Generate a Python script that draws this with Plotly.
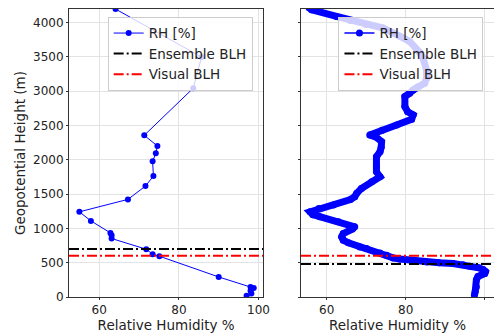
import plotly.graph_objects as go

# ---- Data ----
# Left panel: coarse sounding (RH %, geopotential height m)
left_rh = [97.0, 98.2, 98.0, 98.8, 98.0, 90.0, 75.1, 73.4, 71.8, 63.1, 63.1, 62.8,
           57.9, 55.0, 67.2, 71.6, 73.6, 73.4, 74.2, 74.6, 71.3, 83.6, 85.7, 64.1]
left_h = [20, 50, 90, 130, 145, 292, 594, 623, 696, 852, 901, 934,
          1109, 1241, 1422, 1616, 1762, 1977, 2093, 2200, 2356, 3042, 3495, 4195]

# Right panel: high-resolution profile
right_rh = [55.5, 56.2, 62.5, 66.0, 70.0, 74.3, 78.5, 81.0, 83.6, 84.4, 85.3, 85.3,
            84.8, 83.0, 81.9, 81.0, 79.8, 79.8, 80.5, 81.9, 81.5, 77.7, 74.0, 70.9,
            72.5, 73.9, 73.8, 73.5, 72.6, 72.6, 72.6, 73.5, 71.4, 68.8, 67.6, 67.1,
            66.0, 61.7, 58.0, 55.8, 56.5, 58.3, 63.0, 67.1, 66.5, 64.2, 63.8, 64.2,
            65.5, 68.4, 70.1, 73.5, 75.2, 76.8, 78.5, 81.9, 85.3, 88.5, 92.0, 94.5,
            96.2, 98.5, 99.6, 100.2, 100.0, 98.3, 97.9, 97.9, 97.6, 97.4]
right_h = [4215, 4185, 4088, 4030, 3970, 3918, 3800, 3723, 3560, 3480, 3300, 3188,
           3115, 3060, 3017, 2969, 2920, 2774, 2700, 2653, 2590, 2507, 2430, 2361,
           2330, 2263, 2180, 2117, 2044, 1900, 1825, 1752, 1679, 1582, 1510, 1460,
           1420, 1339, 1290, 1241, 1200, 1168, 1095, 1022, 990, 925, 876, 828,
           790, 730, 706, 640, 609, 570, 555, 530, 511, 498, 487, 470,
           448, 425, 400, 370, 341, 300, 250, 146, 80, 25]

# Boundary-layer heights (m)
left_ensemble_blh = 700
left_visual_blh = 600
right_ensemble_blh = 482
right_visual_blh = 600

x_ticks = [60, 80, 100]
y_ticks = list(range(0, 4001, 500))

left_xrange = [52.4, 101.2]
right_xrange = [53.5, 102.36]
y_range = [0, 4196]

BLUE = "#0000ff"
DASH = "10px,3px,2px,3px"
FONT = "DejaVu Sans"

fig = go.Figure()

# Left panel
fig.add_trace(go.Scatter(x=left_rh, y=left_h, mode="lines+markers", name="RH [%]",
                         line=dict(color=BLUE, width=1), marker=dict(color=BLUE, size=6),
                         xaxis="x", yaxis="y", legend="legend"))
fig.add_trace(go.Scatter(x=left_xrange, y=[left_ensemble_blh] * 2, mode="lines",
                         name="Ensemble BLH", line=dict(color="black", width=2, dash=DASH),
                         xaxis="x", yaxis="y", legend="legend"))
fig.add_trace(go.Scatter(x=left_xrange, y=[left_visual_blh] * 2, mode="lines",
                         name="Visual BLH", line=dict(color="red", width=2, dash=DASH),
                         xaxis="x", yaxis="y", legend="legend"))

# Right panel
fig.add_trace(go.Scatter(x=right_rh, y=right_h, mode="lines", showlegend=False,
                         line=dict(color=BLUE, width=7),
                         xaxis="x2", yaxis="y2", legend="legend2"))
fig.add_trace(go.Scatter(x=right_rh, y=right_h, mode="lines+markers", name="RH [%]",
                         line=dict(color=BLUE, width=1.5), marker=dict(color=BLUE, size=7),
                         xaxis="x2", yaxis="y2", legend="legend2"))
fig.add_trace(go.Scatter(x=right_xrange, y=[right_ensemble_blh] * 2, mode="lines",
                         name="Ensemble BLH", line=dict(color="black", width=2, dash=DASH),
                         xaxis="x2", yaxis="y2", legend="legend2"))
fig.add_trace(go.Scatter(x=right_xrange, y=[right_visual_blh] * 2, mode="lines",
                         name="Visual BLH", line=dict(color="red", width=2, dash=DASH),
                         xaxis="x2", yaxis="y2", legend="legend2"))

axis_common = dict(showline=True, linecolor="#333", linewidth=1, mirror=True,
                   ticks="outside", ticklen=2, tickcolor="#333", automargin=False,
                   showgrid=True, gridcolor="#e3e3e3", gridwidth=1, zeroline=False,
                   tickfont=dict(family=FONT, size=12, color="#222"))

legend_common = dict(bgcolor="rgba(255,255,255,0.8)", bordercolor="#cccccc", borderwidth=1,
                     font=dict(family=FONT, size=13.5, color="#222"),
                     xanchor="left", yanchor="top", tracegroupgap=0)

title_font = dict(family=FONT, size=13.5, color="#222")

fig.update_layout(
    width=494, height=333,
    margin=dict(l=69, r=0, t=9, b=36, autoexpand=False),
    paper_bgcolor="white", plot_bgcolor="white",
    font=dict(family=FONT, size=13, color="#222"),
    xaxis=dict(domain=[0, 0.4572], range=left_xrange, tickvals=x_ticks,
               title=dict(text="Relative Humidity %", standoff=3, font=title_font),
               **axis_common),
    yaxis=dict(range=y_range, tickvals=y_ticks,
               title=dict(text="Geopotential Height (m)", standoff=4, font=title_font),
               **axis_common),
    xaxis2=dict(domain=[0.5459, 1], range=right_xrange, tickvals=x_ticks,
                title=dict(text="Relative Humidity %", standoff=3, font=title_font),
                **axis_common),
    yaxis2=dict(range=y_range, tickvals=y_ticks, anchor="x2", matches="y",
                showticklabels=False, **axis_common),
    legend=dict(x=0.091, y=0.973, **legend_common),
    legend2=dict(x=0.634, y=0.973, **legend_common),
)

fig.write_html("out.html")
